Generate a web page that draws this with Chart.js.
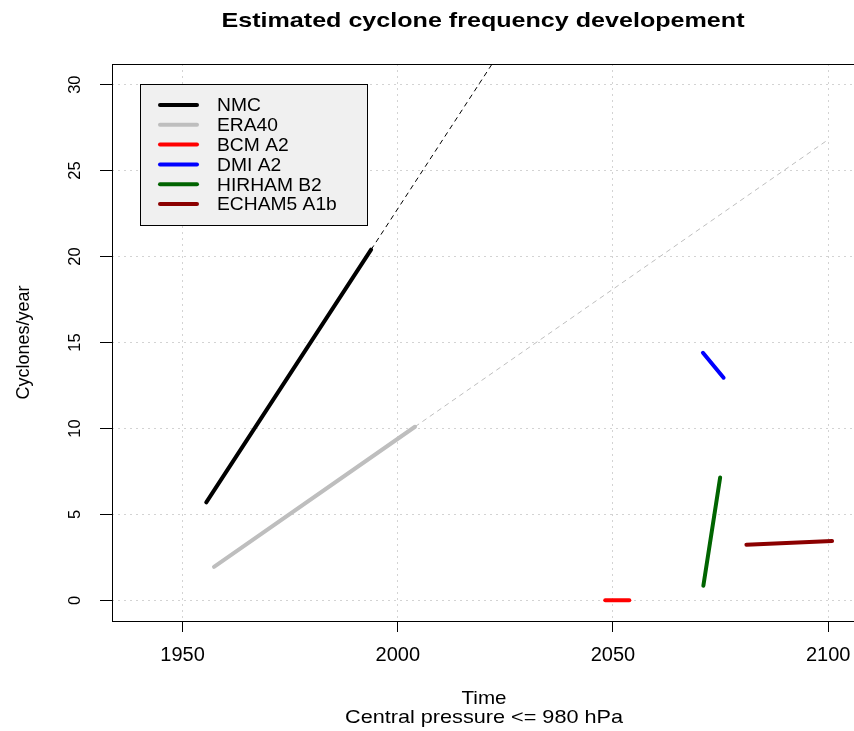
<!DOCTYPE html>
<html>
<head>
<meta charset="utf-8">
<script src="https://cdn.jsdelivr.net/npm/chart.js@4/dist/chart.umd.min.js"></script>
<style>
  html, body { margin: 0; padding: 0; background: #ffffff; }
  #wrap { width: 854px; height: 731px; }
</style>
</head>
<body>
<div id="wrap"><canvas id="c" width="854" height="731"></canvas></div>
<script>
// Series names and colours
const seriesNames = ['NMC', 'ERA40', 'BCM A2', 'DMI A2', 'HIRHAM B2', 'ECHAM5 A1b'];
const seriesColors = ['#000000', '#BEBEBE', '#FF0000', '#0000FF', '#006400', '#8B0000'];

// Fitted trend segments (year, cyclones per year)
const nmcYears = [1955.5, 1993.8];
const nmcValues = [5.7, 20.4];
const era40Years = [1957.3, 2004.0];
const era40Values = [1.95, 10.1];
const bcmYears = [2048.2, 2053.8];
const bcmValues = [0.0, 0.0];
const dmiYears = [2070.9, 2075.7];
const dmiValues = [14.4, 12.95];
const hirhamYears = [2071.0, 2074.9];
const hirhamValues = [0.85, 7.15];
const echamYears = [2081.0, 2100.9];
const echamValues = [3.24, 3.45];

// Extrapolated continuation of the two reanalysis trends
const nmcTrendYears = [1993.8, 2100];
const nmcTrendValues = [20.4, 61.2];
const era40TrendYears = [2004.0, 2100];
const era40TrendValues = [10.1, 26.8];

// Axis ticks
const xTicks = [1950, 2000, 2050, 2100];
const yTicks = [0, 5, 10, 15, 20, 25, 30];

const FONT = "'Liberation Sans', Arial, Helvetica, sans-serif";

function pts(xs, ys) { return xs.map((x, i) => ({ x: x, y: ys[i] })); }

const solidSeries = [
  [nmcYears, nmcValues], [era40Years, era40Values], [bcmYears, bcmValues],
  [dmiYears, dmiValues], [hirhamYears, hirhamValues], [echamYears, echamValues]
];

const datasets = solidSeries.map((s, i) => ({
  label: seriesNames[i],
  data: pts(s[0], s[1]),
  showLine: true,
  borderColor: seriesColors[i],
  backgroundColor: seriesColors[i],
  borderWidth: 4,
  borderCapStyle: 'round',
  pointRadius: 0,
  pointHoverRadius: 0,
  inLegend: true
}));

datasets.push({
  label: 'NMC trend',
  data: pts(nmcTrendYears, nmcTrendValues),
  showLine: true, borderColor: seriesColors[0], borderWidth: 1,
  borderDash: [5, 4], pointRadius: 0, clip: 0
});
datasets.push({
  label: 'ERA40 trend',
  data: pts(era40TrendYears, era40TrendValues),
  showLine: true, borderColor: seriesColors[1], borderWidth: 1,
  borderDash: [5, 4], pointRadius: 0, clip: 0
});

// Text helper: optional rotation and scaling along the text to a target length
function drawText(ctx, text, x, y, o) {
  ctx.save();
  ctx.font = (o.weight || 'normal') + ' ' + o.size + 'px ' + FONT;
  ctx.fillStyle = o.color || '#000';
  ctx.textAlign = o.align || 'center';
  ctx.textBaseline = 'alphabetic';
  ctx.translate(x, y);
  if (o.rotate) ctx.rotate(o.rotate);
  let sx = o.sx || 1;
  if (o.width) sx = o.width / ctx.measureText(text).width;
  ctx.scale(sx, 1);
  ctx.fillText(text, 0, 0);
  ctx.restore();
}

const decorations = {
  id: 'decorations',
  afterDraw(chart) {
    const ctx = chart.ctx;
    const a = chart.chartArea;
    const ys = chart.scales.y;
    const cx = (a.left + a.right) / 2;
    const cy = (a.top + a.bottom) / 2;

    // plot box
    ctx.save();
    ctx.strokeStyle = '#000';
    ctx.lineWidth = 1;
    ctx.strokeRect(Math.round(a.left) + 0.5, Math.round(a.top) + 0.5,
      Math.round(a.right - a.left), Math.round(a.bottom - a.top));
    ctx.restore();

    // title
    drawText(ctx, 'Estimated cyclone frequency developement', cx, 27,
      { size: 21, weight: 'bold', width: 523 });

    // y tick labels, parallel to the axis
    ys.ticks.forEach(t => {
      drawText(ctx, String(t.value), 80, ys.getPixelForValue(t.value),
        { size: 16.5, rotate: -Math.PI / 2 });
    });

    // axis titles
    drawText(ctx, 'Cyclones/year', 29, cy, { size: 18, rotate: -Math.PI / 2 });
    drawText(ctx, 'Time', 484, 704, { size: 19, width: 45 });
    drawText(ctx, 'Central pressure <= 980 hPa', 484, 723, { size: 19, width: 278 });

    // legend
    const lx = 140, ly = 84, lw = 227, lh = 141;
    ctx.save();
    ctx.fillStyle = '#F0F0F0';
    ctx.fillRect(lx, ly, lw, lh);
    ctx.strokeStyle = '#000';
    ctx.lineWidth = 1;
    ctx.strokeRect(lx + 0.5, ly + 0.5, lw, lh);
    ctx.restore();
    const items = chart.data.datasets.filter(d => d.inLegend);
    items.forEach((d, i) => {
      const ry = 105 + i * 19.8;
      ctx.save();
      ctx.strokeStyle = d.borderColor;
      ctx.lineWidth = 4;
      ctx.lineCap = 'round';
      ctx.beginPath();
      ctx.moveTo(160, ry);
      ctx.lineTo(197, ry);
      ctx.stroke();
      ctx.restore();
      drawText(ctx, d.label, 217, ry + 6.3, { size: 17.5, align: 'left', sx: 1.1 });
    });
  }
};

new Chart(document.getElementById('c'), {
  type: 'scatter',
  data: { datasets: datasets },
  options: {
    responsive: false,
    animation: false,
    devicePixelRatio: 1,
    layout: { autoPadding: false, padding: { top: 64, right: 0, left: 0, bottom: 0 } },
    plugins: { legend: { display: false }, title: { display: false }, tooltip: { enabled: false } },
    scales: {
      x: {
        type: 'linear',
        min: 1933.6,
        max: 2106,
        afterFit(scale) {
          scale.height = 110;
          scale.paddingLeft = 0;
          scale.paddingRight = 0;
        },
        afterBuildTicks(scale) { scale.ticks = xTicks.map(v => ({ value: v })); },
        ticks: {
          color: '#000',
          font: { family: FONT, size: 20 },
          padding: 11,
          maxRotation: 0,
          callback: v => String(v)
        },
        grid: {
          color: '#D3D3D3',
          lineWidth: 1,
          drawTicks: true,
          tickLength: 11,
          tickColor: '#000',
          tickBorderDash: [],
          tickWidth: 1
        },
        border: { display: false, dash: [2, 4] }
      },
      y: {
        type: 'linear',
        min: -1.2,
        max: 31.2,
        afterFit(scale) {
          scale.width = 112;
          scale.paddingTop = 0;
          scale.paddingBottom = 0;
        },
        afterBuildTicks(scale) { scale.ticks = yTicks.map(v => ({ value: v })); },
        ticks: { display: false },
        grid: {
          color: '#D3D3D3',
          lineWidth: 1,
          drawTicks: true,
          tickLength: 12,
          tickColor: '#000',
          tickBorderDash: [],
          tickWidth: 1
        },
        border: { display: false, dash: [2, 4] }
      }
    }
  },
  plugins: [decorations]
});
</script>
</body>
</html>
